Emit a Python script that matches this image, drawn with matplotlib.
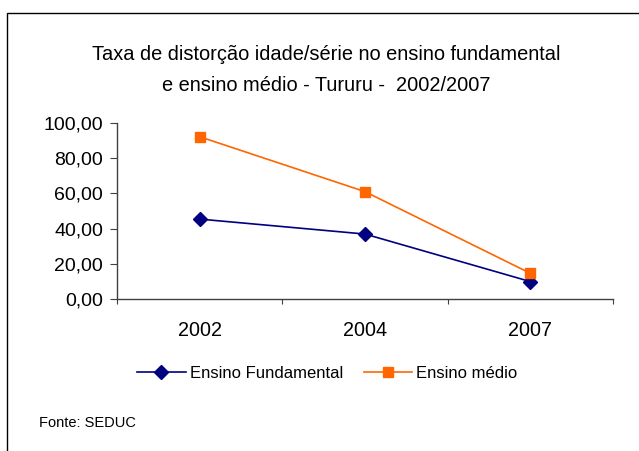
import matplotlib
matplotlib.use("Agg")
import matplotlib.pyplot as plt
from matplotlib.ticker import FuncFormatter
from matplotlib.patches import Rectangle

plt.rcParams['font.family'] = ['Liberation Sans', 'DejaVu Sans']

# data
years = ['2002', '2004', '2007']
fundamental = [45.4, 36.9, 9.9]
medio = [92.2, 61.0, 14.6]

fig = plt.figure(figsize=(6.39, 4.51), dpi=100)

# outer frame of the chart area (open on right and bottom like the source)
fig.patches.append(Rectangle((7 / 639, -0.1), 1.2, 1 - 13 / 451 + 0.1,
                             transform=fig.transFigure, fill=False,
                             edgecolor='black', linewidth=1.0))

ax = fig.add_axes([117 / 639, (451 - 299) / 451, (613 - 117) / 639, (299 - 123) / 451])

x = list(range(1, len(years) + 1))
ax.plot(x, fundamental, color='#000080', marker='D', markersize=7.5, linewidth=1.2,
        label='Ensino Fundamental', clip_on=False)
ax.plot(x, medio, color='#FF6600', marker='s', markersize=7.5, linewidth=1.2,
        label='Ensino médio', clip_on=False)

ax.set_xlim(0.5, len(years) + 0.5)
ax.set_ylim(0, 100)
ax.set_yticks(range(0, 101, 20))
ax.yaxis.set_major_formatter(FuncFormatter(lambda v, p: f"{v:.2f}".replace('.', ',')))

# ticks at category boundaries, labels at centres
ax.set_xticks([i + 0.5 for i in range(0, len(years) + 1)])
ax.set_xticklabels([])
ax.set_xticks(x, minor=True)
ax.set_xticklabels(years, minor=True)
ax.tick_params(axis='x', which='minor', length=0, pad=16, labelsize=14.2)
ax.tick_params(axis='x', which='major', length=3.8, color='#404040')
ax.tick_params(axis='y', length=5, color='#404040', labelsize=14, pad=5)

for s in ['top', 'right']:
    ax.spines[s].set_visible(False)
for s in ['left', 'bottom']:
    ax.spines[s].set_color('#404040')
    ax.spines[s].set_linewidth(1.0)

fig.text(326.5 / 639, 1 - 70 / 451,
         'Taxa de distorção idade/série no ensino fundamental\ne ensino médio - Tururu -  2002/2007',
         ha='center', va='center', fontsize=14.4, linespacing=1.77)

fig.legend(loc='center', bbox_to_anchor=(327.5 / 639, 1 - 373 / 451), ncol=2, frameon=False,
           fontsize=12, handlelength=2.9, handletextpad=0.25, columnspacing=1.25,
           markerscale=0.95, borderpad=0)

fig.text(39 / 639, 1 - 423 / 451, 'Fonte: SEDUC', ha='left', va='center', fontsize=10.5)

fig.savefig('out.png', dpi=100)
